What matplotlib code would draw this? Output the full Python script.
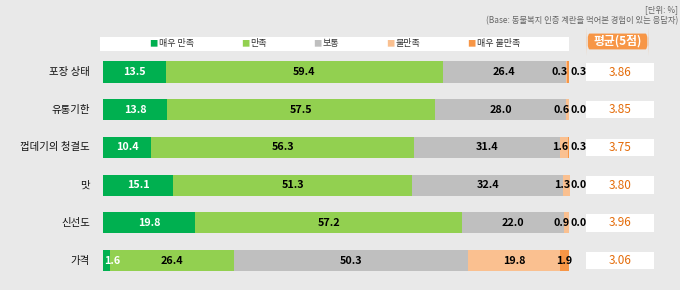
import matplotlib
matplotlib.use("Agg")
import matplotlib.pyplot as plt
from matplotlib.patches import Rectangle, FancyBboxPatch
import numpy as np

plt.rcParams['font.family'] = ['Noto Sans CJK KR', 'DejaVu Sans']

# -----------------------------
# Data
# -----------------------------
categories = ["포장 상태", "유통기한", "껍데기의 청결도", "맛", "신선도", "가격"]
series_names = ["매우 만족", "만족", "보통", "불만족", "매우 불만족"]
very_sat = [13.5, 13.8, 10.4, 15.1, 19.8, 1.6]
sat = [59.4, 57.5, 56.3, 51.3, 57.2, 26.4]
neutral = [26.4, 28.0, 31.4, 32.4, 22.0, 50.3]
unsat = [0.3, 0.6, 1.6, 1.3, 0.9, 19.8]
very_unsat = [0.3, 0.0, 0.3, 0.0, 0.0, 1.9]
averages = [3.86, 3.85, 3.75, 3.80, 3.96, 3.06]

colors = ["#00b050", "#92d050", "#bfbfbf", "#fac090", "#f79646"]
avg_color = "#e46c0a"
bg = "#e9e9e9"

fig = plt.figure(figsize=(6.8, 2.9), dpi=100, facecolor=bg)
ax = fig.add_axes([0, 0, 1, 1])
ax.set_facecolor(bg)
ax.set_xlim(-22.1, 123.8)
ax.set_ylim(5.78, -1.91)
ax.axis("off")

values = np.array([very_sat, sat, neutral, unsat, very_unsat])
y = np.arange(len(categories))
h = 0.56
left = np.zeros(len(categories))
for k in range(5):
    ax.barh(y, values[k], left=left, height=h, color=colors[k], edgecolor="none")
    for i in range(len(categories)):
        v = values[k][i]
        txt_color = "white" if k == 0 else "black"
        kw = dict(va="center", fontsize=7.8, fontweight="bold", color=txt_color)
        if v >= 5:
            ax.text(left[i] + v / 2, y[i], f"{v:.1f}", ha="center", **kw)
        elif k == 0:
            ax.text(left[i] + 0.2, y[i], f"{v:.1f}", ha="left", **kw)
        elif k == 3:
            ax.text(left[i] + v + 0.2, y[i], f"{v:.1f}", ha="right", **kw)
        elif k == 4:
            if values[3][i] >= 5:
                ax.text(left[i] + v / 2, y[i], f"{v:.1f}", ha="center", **kw)
            else:
                ax.text(100.4, y[i], f"{v:.1f}", ha="left", **kw)
    left += values[k]

# category labels
for i, c in enumerate(categories):
    ax.text(-2.8, y[i], c, ha="right", va="center", fontsize=7.5,
            fontweight="medium", color="#111111")

# average boxes
ax.add_patch(FancyBboxPatch((103.8, -1.02), 13.2, 0.42,
                            boxstyle="round,pad=0,rounding_size=0.6",
                            facecolor="#f79646", edgecolor="none"))
ax.text(110.4, -0.81, "평균(5점)", ha="center", va="center", fontsize=8.5,
        fontweight="bold", color="white")
for i, a in enumerate(averages):
    ax.add_patch(Rectangle((103.7, y[i] - 0.23), 14.6, 0.46,
                           facecolor="white", edgecolor="none"))
    ax.text(111.0, y[i], f"{a:.2f}", ha="center", va="center",
            fontsize=8.5, color=avg_color)

# legend box
ax.add_patch(Rectangle((-0.6, -0.93), 100.6, 0.37, facecolor="white", edgecolor="none"))
leg_x = [10.0, 29.6, 45.2, 60.7, 78.2]
for k, name in enumerate(series_names):
    ax.text(leg_x[k], -0.745, "■", ha="left", va="center", fontsize=6, color=colors[k])
    ax.text(leg_x[k] + 2.0, -0.745, name, ha="left", va="center", fontsize=6.5,
            color="#333333")

fig.text(0.997, 0.983, "[단위: %]", ha="right", va="top", fontsize=6, color="#666666")
fig.text(0.997, 0.945, "(Base: 동물복지 인증 계란을 먹어본 경험이 있는 응답자)", ha="right",
         va="top", fontsize=6, color="#666666")

fig.savefig("out.png", dpi=100, facecolor=bg)
